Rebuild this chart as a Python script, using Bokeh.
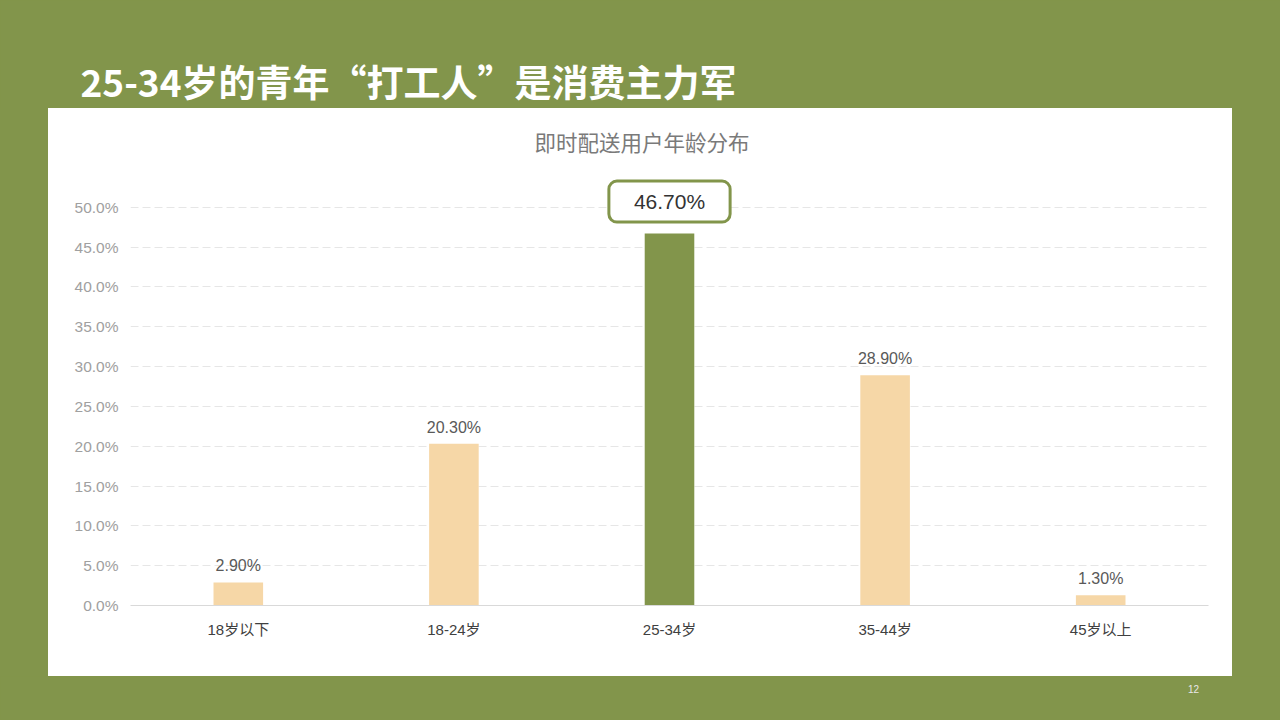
import numpy as np
from bokeh.plotting import figure
from bokeh.layouts import column, row
from bokeh.models import (ColumnDataSource, LabelSet, Label, Spacer,
                          FixedTicker, PrintfTickFormatter)
from bokeh.core.properties import value
from bokeh.embed import file_html
from bokeh.resources import INLINE

# ---- data ----
categories = ["18岁以下", "18-24岁", "25-34岁", "35-44岁", "45岁以上"]
shares = [2.9, 20.3, 46.7, 28.9, 1.3]
y_ticks = [0, 5, 10, 15, 20, 25, 30, 35, 40, 45, 50]
main_title = "25-34岁的青年“打工人”是消费主力军"
chart_title = "即时配送用户年龄分布"
page_number = "12"

GREEN = "#82954B"
PEACH = "#F6D7A7"
LATIN = "Liberation Sans, Noto Sans CJK SC"
CJK = "Noto Sans CJK SC"

PAGE_W, PAGE_H = 1280, 720
PANEL_L, PANEL_T, PANEL_W, PANEL_H = 48, 108, 1184, 568


def banner(height):
    f = figure(width=PAGE_W, height=height, x_range=(0, PAGE_W), y_range=(height, 0),
               x_axis_type=None, y_axis_type=None, output_backend="svg",
               toolbar_location=None, min_border=0)
    f.background_fill_color = GREEN
    f.border_fill_color = GREEN
    f.outline_line_color = None
    f.xgrid.visible = False
    f.ygrid.visible = False
    f.styles = {"background-color": GREEN}
    return f


# ---- top banner with main title ----
top = banner(PANEL_T)
top.add_layout(Label(x=80, y=80, text=main_title, text_align="left",
                     text_baseline="middle", text_font=CJK, text_font_style="bold",
                     text_font_size="37px", text_color="white"))

# ---- bottom banner with page number ----
bottom_h = PAGE_H - PANEL_T - PANEL_H
bottom = banner(bottom_h)
bottom.add_layout(Label(x=1193, y=12, text=page_number, text_align="center",
                        text_baseline="middle", text_font=LATIN,
                        text_font_size="10px", text_color="#E8E8E8"))

# ---- chart ----
hi = int(np.argmax(shares))
colors = [GREEN if i == hi else PEACH for i in range(len(shares))]
labels = ["" if i == hi else f"{v:.2f}%" for i, v in enumerate(shares)]
src = ColumnDataSource(dict(cat=categories, val=shares, color=colors, lab=labels))

p = figure(x_range=categories, y_range=(0, 55), width=PANEL_W, height=PANEL_H,
           output_backend="svg", toolbar_location=None,
           min_border_left=82, min_border_right=24,
           min_border_top=59, min_border_bottom=71)
p.border_fill_color = "white"
p.background_fill_color = "white"
p.outline_line_color = None
p.styles = {"background-color": "white"}

p.title.text = chart_title
p.title.align = "left"
p.title.offset = 404
p.title.text_font = CJK
p.title.text_font_style = "normal"
p.title.text_font_size = "21.5px"
p.title.text_color = "#7A7A7A"
p.title.standoff = 22

p.vbar(x="cat", top="val", width=0.23, color="color", source=src, line_color=None)

p.xgrid.grid_line_color = None
p.ygrid.grid_line_color = "#E6E6E6"
p.ygrid.grid_line_dash = "8 4"
p.ygrid.grid_line_width = 1

p.yaxis.ticker = FixedTicker(ticks=y_ticks)
p.yaxis.formatter = PrintfTickFormatter(format="%.1f%%")
p.yaxis.axis_line_color = None
p.yaxis.major_tick_line_color = None
p.yaxis.minor_tick_line_color = None
p.yaxis.major_tick_out = 0
p.yaxis.major_label_standoff = 12
p.yaxis.major_label_text_font = LATIN
p.yaxis.major_label_text_font_size = "15.5px"
p.yaxis.major_label_text_color = "#A0A0A0"

p.xaxis.axis_line_color = "#D9D9D9"
p.xaxis.axis_line_width = 1
p.xaxis.major_tick_line_color = None
p.xaxis.minor_tick_line_color = None
p.xaxis.major_tick_out = 0
p.xaxis.major_label_standoff = 15
p.xaxis.major_label_text_font = LATIN
p.xaxis.major_label_text_font_size = "15px"
p.xaxis.major_label_text_color = "#404040"

ls = LabelSet(x="cat", y="val", text="lab", source=src, y_offset=11,
              text_align="center", text_baseline="alphabetic",
              text_font=value(LATIN), text_font_size="16px", text_color="#595959")
p.add_layout(ls)

# highlighted value in a rounded, green-bordered box
hl_kw = dict(x=hi + 0.5, y=shares[hi], text=f"{shares[hi]:.2f}%",
             text_align="center", text_baseline="middle", y_offset=32,
             text_font=LATIN, text_font_size="21px", text_color="#333333",
             background_fill_color="white", border_line_color=GREEN,
             border_line_width=3)
props = Label.properties()
if "padding" in props:
    hl_kw["padding"] = dict(left=25, right=25, top=9, bottom=9)
if "border_radius" in props:
    hl_kw["border_radius"] = 8
p.add_layout(Label(**hl_kw))

side_l = Spacer(width=PANEL_L, height=PANEL_H)
side_r = Spacer(width=PAGE_W - PANEL_L - PANEL_W, height=PANEL_H)
layout = column(top, row(side_l, p, side_r), bottom,
                styles={"background-color": GREEN})

html = file_html(layout, INLINE)
html = html.replace("<body>", '<body style="background-color:%s;">' % GREEN, 1)
open("out.html", "w").write(html)
